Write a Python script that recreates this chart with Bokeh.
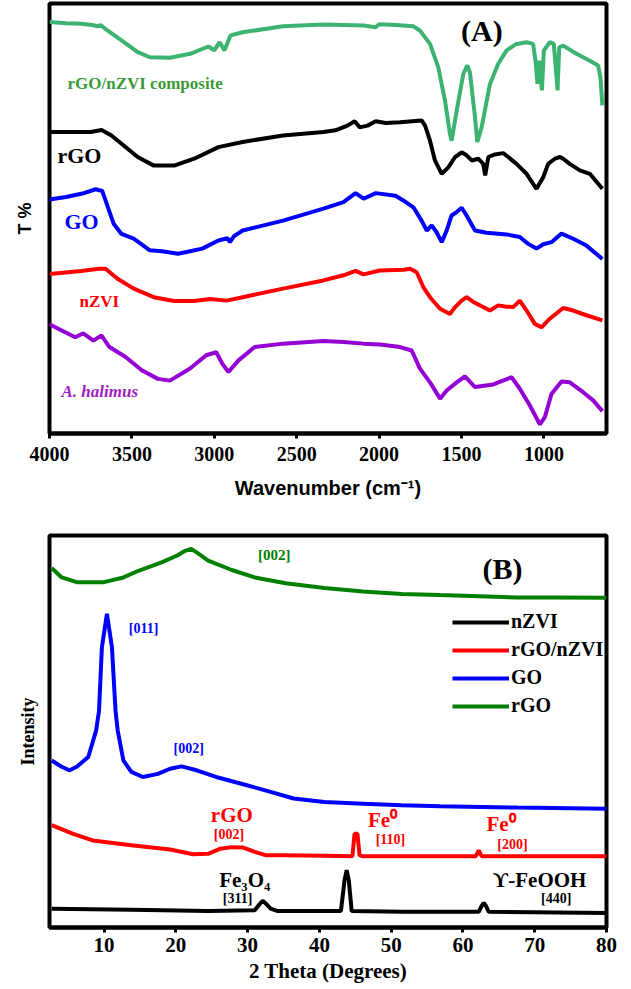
from bokeh.plotting import figure
from bokeh.models import Range1d, FixedTicker, Label, Legend, LegendItem
from bokeh.layouts import column
from bokeh.embed import file_html
from bokeh.resources import INLINE

# ---------------- Panel A : FTIR ----------------
a_ticks = [4000, 3500, 3000, 2500, 2000, 1500, 1000]

wn_comp = [4000, 3900, 3807, 3740, 3709, 3690, 3655, 3563, 3465, 3391, 3269, 3146, 3036, 3000, 2968, 2938,
           2901, 2828, 2583, 2338, 2094, 2020, 2000, 1900, 1792, 1752, 1691, 1641, 1600, 1570, 1560, 1529,
           1489, 1465, 1449, 1418, 1404, 1378, 1327, 1277, 1226, 1166, 1105, 1065, 1049, 1039, 1028, 1012,
           1000, 964, 940, 928, 917, 907, 883, 802, 721, 671, 657, 645]
t_comp = [95.7, 95.4, 95.3, 95.0, 94.7, 95.0, 93.9, 91.4, 88.7, 87.5, 87.4, 88.3, 90.0, 89.1, 91.0, 89.1,
          92.6, 93.3, 94.7, 95.1, 94.9, 94.5, 95.2, 95.0, 94.7, 93.7, 90.6, 85.2, 77.4, 69.7, 68.1, 75.1,
          83.6, 85.6, 84.0, 73.6, 67.8, 71.2, 81.3, 86.0, 89.1, 90.6, 91.0, 90.6, 86.0, 81.3, 86.7, 79.8,
          89.1, 91.0, 90.6, 85.2, 79.8, 89.8, 90.2, 88.3, 86.7, 85.6, 82.9, 76.3]

wn_rgo = [4000, 3750, 3684, 3624, 3563, 3465, 3367, 3244, 3122, 2975, 2828, 2583, 2338, 2265, 2192, 2148,
          2118, 2070, 2020, 1960, 1873, 1742, 1721, 1691, 1661, 1620, 1580, 1539, 1499, 1469, 1438, 1398,
          1368, 1356, 1337, 1297, 1247, 1216, 1166, 1105, 1045, 1004, 974, 933, 903, 883, 843, 782, 721, 645]
t_rgo = [70.1, 70.1, 70.6, 69.3, 67.4, 64.3, 62.3, 62.3, 63.9, 66.6, 67.8, 69.3, 70.1, 70.5, 71.6, 72.6,
         71.2, 71.6, 72.6, 72.2, 72.4, 72.8, 71.6, 68.1, 63.5, 60.4, 61.9, 64.3, 65.4, 64.7, 63.5, 63.9,
         62.7, 60.0, 64.3, 64.9, 65.2, 64.3, 62.7, 60.4, 56.9, 59.6, 62.7, 63.9, 64.3, 63.9, 62.7, 61.2, 60.4, 56.9]

wn_go = [4000, 3900, 3800, 3720, 3680, 3660, 3611, 3563, 3489, 3391, 3318, 3220, 3147, 3073, 2975, 2920,
         2905, 2880, 2828, 2583, 2338, 2216, 2143, 2094, 2020, 1900, 1853, 1792, 1742, 1711, 1681, 1651,
         1620, 1590, 1560, 1529, 1499, 1469, 1418, 1348, 1226, 1146, 1095, 1045, 1004, 954, 893, 822, 742, 645]
t_go = [54.4, 55.0, 55.8, 56.8, 56.4, 54.2, 48.8, 46.4, 45.3, 42.6, 42.4, 41.8, 42.4, 43.0, 44.9, 45.4,
        44.5, 45.9, 47.2, 49.5, 52.3, 53.8, 55.9, 54.6, 55.9, 55.3, 54.2, 52.6, 49.5, 47.2, 48.4, 46.8,
        44.5, 47.2, 50.7, 51.5, 52.5, 50.7, 47.2, 46.7, 46.3, 45.7, 44.1, 43.0, 44.0, 44.5, 46.5, 45.3, 43.7, 40.6]

wn_nzvi = [4000, 3807, 3700, 3660, 3587, 3489, 3367, 3244, 3122, 3024, 2926, 2828, 2583, 2338, 2216, 2143,
           2094, 1996, 1849, 1812, 1772, 1731, 1691, 1630, 1570, 1539, 1499, 1469, 1428, 1327, 1277, 1226,
           1186, 1146, 1105, 1055, 1014, 964, 883, 822, 742, 645]
t_nzvi = [37.1, 37.8, 38.3, 38.3, 36.0, 33.7, 31.7, 30.8, 30.8, 31.3, 30.9, 31.7, 33.7, 35.6, 36.8, 37.8,
          37.0, 37.9, 38.1, 38.3, 37.5, 34.0, 31.7, 29.0, 27.8, 29.4, 30.9, 31.7, 30.6, 28.6, 29.8, 29.5,
          29.4, 30.9, 28.6, 25.5, 24.7, 26.7, 29.2, 28.6, 27.5, 26.3]

wn_hal = [4000, 3929, 3844, 3795, 3734, 3685, 3636, 3538, 3440, 3342, 3269, 3147, 3049, 2988, 2951, 2914,
          2853, 2755, 2583, 2338, 2216, 2094, 1994, 1873, 1802, 1752, 1691, 1630, 1590, 1529, 1479, 1418,
          1307, 1196, 1146, 1085, 1024, 994, 954, 893, 843, 762, 701, 645]
t_hal = [25.4, 24.0, 22.4, 23.3, 21.6, 22.8, 20.1, 17.8, 14.7, 12.7, 12.3, 15.1, 18.2, 18.9, 16.2, 14.3,
         17.0, 20.1, 20.9, 21.5, 21.3, 20.9, 20.7, 20.1, 19.3, 15.1, 11.9, 8.1, 10.0, 11.9, 13.3, 10.8,
         11.4, 13.1, 10.4, 6.5, 2.1, 3.8, 9.2, 12.1, 11.9, 9.6, 7.7, 5.2]

# ---------------- Panel B : XRD ----------------
b_ticks = [10, 20, 30, 40, 50, 60, 70, 80]

th_rgo = [2.7, 4.1, 6.2, 10.0, 12.7, 14.8, 18.1, 20.2, 21.3, 22.1, 22.9, 24.5, 27.8, 31.0, 35.3, 40.7,
          46.1, 51.5, 56.8, 62.2, 67.6, 73.0, 80.0]
i_rgo = [91.7, 89.3, 88.1, 88.1, 89.3, 91.0, 93.2, 94.9, 96.1, 96.6, 95.7, 93.6, 91.2, 89.3, 87.8, 86.6,
         85.7, 85.1, 84.8, 84.5, 84.2, 84.2, 84.1]

th_go = [2.7, 4.1, 5.2, 6.2, 7.8, 8.9, 9.3, 9.7, 10.4, 11.1, 11.6, 11.9, 12.7, 13.8, 15.4, 17.5, 19.2,
         20.8, 22.9, 25.6, 29.9, 33.2, 36.4, 40.7, 46.1, 51.5, 56.8, 67.6, 80.0]
i_go = [42.6, 41.0, 40.1, 41.0, 43.5, 50.3, 55.3, 71.5, 80.0, 71.5, 55.3, 50.3, 42.6, 39.7, 38.4, 39.2, 40.5,
        41.1, 40.1, 38.4, 36.3, 34.6, 32.9, 32.0, 31.6, 31.2, 30.9, 30.6, 30.3]

th_comp = [2.7, 5.7, 8.4, 13.8, 19.2, 22.4, 24.5, 26.2, 27.8, 29.4, 31.0, 32.6, 35.3, 40.7, 44.6, 44.9,
           45.3, 45.6, 46.0, 51.5, 61.8, 62.2, 62.6, 80.0]
i_comp = [26.1, 23.9, 22.2, 21.0, 19.9, 18.7, 18.8, 20.1, 20.5, 20.4, 19.3, 18.4, 18.4, 18.3, 18.2, 23.9,
          23.9, 18.4, 18.2, 18.2, 18.2, 19.7, 18.2, 18.2]

th_nzvi = [2.7, 13.8, 24.5, 31.0, 31.6, 32.1, 32.6, 33.2, 34.2, 43.0, 43.5, 43.8, 44.1, 44.5, 51.5, 62.2,
           62.6, 62.9, 63.2, 63.6, 80.0]
i_nzvi = [4.8, 4.5, 4.2, 4.4, 5.8, 6.8, 6.0, 4.8, 4.2, 4.2, 12.0, 14.6, 12.0, 4.2, 4.0, 4.0, 5.5, 6.3,
          5.5, 4.0, 3.7]

legend_names = ["nZVI", "rGO/nZVI", "GO", "rGO"]

SERIF = "Liberation Serif"
SANS = "Liberation Sans"


def lab(p, x, y, text, color, size, align="left", style="bold", font=SERIF):
    p.add_layout(Label(x=x, y=y, text=text, text_color=color, text_font=font,
                       text_font_style=style, text_font_size=f"{size}px",
                       text_align=align, text_baseline="middle"))


def style_frame(p):
    p.outline_line_color = "black"
    p.outline_line_width = 4
    p.outline_line_alpha = 1
    p.xgrid.visible = False
    p.ygrid.visible = False
    p.background_fill_color = "white"
    p.border_fill_color = "white"


# ---------- figure A ----------
pa = figure(width=630, height=515, x_range=Range1d(4000, 620), y_range=Range1d(0, 100),
            output_backend="svg", toolbar_location=None,
            min_border_left=49, min_border_right=24, min_border_top=3, min_border_bottom=82)
style_frame(pa)
lw = 4
pa.line(wn_comp, t_comp, line_color="#3cb371", line_width=lw)
pa.line(wn_rgo, t_rgo, line_color="black", line_width=lw)
pa.line(wn_go, t_go, line_color="#0000ff", line_width=lw)
pa.line(wn_nzvi, t_nzvi, line_color="#ff0000", line_width=lw)
pa.line(wn_hal, t_hal, line_color="#9400d3", line_width=lw)

xa = pa.xaxis[0]
xa.ticker = FixedTicker(ticks=a_ticks)
xa.minor_tick_line_color = None
xa.major_tick_out = 5
xa.major_tick_in = 0
xa.major_tick_line_width = 3
xa.major_tick_line_color = "black"
xa.axis_line_width = 4
xa.axis_line_color = "black"
xa.major_label_standoff = 8
xa.major_label_text_font = SERIF
xa.major_label_text_font_style = "bold"
xa.major_label_text_font_size = "20px"
xa.major_label_text_color = "black"
xa.axis_label = "Wavenumber (cm\u207b\u00b9)"
xa.axis_label_text_font = SANS
xa.axis_label_text_font_style = "bold"
xa.axis_label_text_font_size = "20px"
xa.axis_label_text_color = "black"
xa.axis_label_standoff = 13

ya = pa.yaxis[0]
ya.ticker = FixedTicker(ticks=[])
ya.major_tick_line_color = None
ya.minor_tick_line_color = None
ya.axis_line_color = None
ya.major_label_standoff = 0
ya.axis_label = "T %"
ya.axis_label_text_font = SANS
ya.axis_label_text_font_style = "bold"
ya.axis_label_text_font_size = "18px"
ya.axis_label_text_color = "black"
ya.axis_label_standoff = 15

lab(pa, 3891, 81.4, "rGO/nZVI composite", "#3a9a3a", 17)
lab(pa, 3952, 64.7, "rGO", "black", 22)
lab(pa, 3909, 49.3, "GO", "#0000ff", 22)
lab(pa, 3818, 30.7, "nZVI", "#ff0000", 17)
lab(pa, 3927, 9.8, "A. halimus", "#a020c0", 17, style="bold italic")
lab(pa, 1376, 93.7, "(A)", "black", 30, align="center")

# ---------- figure B ----------
pb = figure(width=630, height=473, x_range=Range1d(2.4, 80), y_range=Range1d(0, 100),
            output_backend="svg", toolbar_location=None,
            min_border_left=35, min_border_right=13, min_border_top=20, min_border_bottom=61)
style_frame(pb)
r_rgo = pb.line(th_rgo, i_rgo, line_color="#008000", line_width=lw)
r_go = pb.line(th_go, i_go, line_color="#0000ff", line_width=lw)
r_comp = pb.line(th_comp, i_comp, line_color="#ff0000", line_width=lw)
r_nzvi = pb.line(th_nzvi, i_nzvi, line_color="black", line_width=lw)

xb = pb.xaxis[0]
xb.ticker = FixedTicker(ticks=b_ticks)
xb.minor_tick_line_color = None
xb.major_tick_out = 5
xb.major_tick_in = 0
xb.major_tick_line_width = 3
xb.major_tick_line_color = "black"
xb.axis_line_width = 4
xb.axis_line_color = "black"
xb.major_label_standoff = 5
xb.major_label_text_font = SERIF
xb.major_label_text_font_style = "bold"
xb.major_label_text_font_size = "21px"
xb.major_label_text_color = "black"
xb.axis_label = "2 Theta (Degrees)"
xb.axis_label_text_font = SERIF
xb.axis_label_text_font_style = "bold"
xb.axis_label_text_font_size = "21px"
xb.axis_label_text_color = "black"
xb.axis_label_standoff = 4

yb = pb.yaxis[0]
yb.ticker = FixedTicker(ticks=[])
yb.major_tick_line_color = None
yb.minor_tick_line_color = None
yb.axis_line_color = None
yb.major_label_standoff = 0
yb.axis_label = "Intensity"
yb.axis_label_text_font = SERIF
yb.axis_label_text_font_style = "bold"
yb.axis_label_text_font_size = "18px"
yb.axis_label_text_color = "black"
yb.axis_label_standoff = 12

lab(pb, 33.7, 94.9, "[002]", "#008000", 15, align="center")
lab(pb, 65.5, 91.5, "(B)", "black", 30, align="center")
lab(pb, 15.5, 76.2, "[011]", "#0000ff", 14, align="center")
lab(pb, 21.8, 45.6, "[002]", "#0000ff", 14, align="center")
lab(pb, 27.8, 28.8, "rGO", "#ff0000", 21, align="center")
lab(pb, 27.4, 23.7, "[002]", "#ff0000", 14, align="center")
lab(pb, 48.8, 27.5, "Fe\u2070", "#ff0000", 21, align="center")
lab(pb, 49.9, 22.5, "[110]", "#ff0000", 14, align="center")
lab(pb, 65.3, 26.3, "Fe\u2070", "#ff0000", 21, align="center")
lab(pb, 66.9, 21.2, "[200]", "#ff0000", 14, align="center")
lab(pb, 29.6, 12.2, "Fe\u2083O\u2084", "black", 21, align="center")
lab(pb, 28.6, 7.4, "[311]", "black", 14, align="center")
lab(pb, 70.7, 12.0, "\u03d2-FeOOH", "black", 21, align="center")
lab(pb, 73.0, 7.4, "[440]", "black", 14, align="center")

legend = Legend(items=[LegendItem(label=legend_names[0], renderers=[r_nzvi]),
                       LegendItem(label=legend_names[1], renderers=[r_comp]),
                       LegendItem(label=legend_names[2], renderers=[r_go]),
                       LegendItem(label=legend_names[3], renderers=[r_rgo])],
                location=(403, 210))
legend.label_text_font = SERIF
legend.label_text_font_style = "bold"
legend.label_text_font_size = "20px"
legend.label_text_color = "black"
legend.glyph_width = 57
legend.glyph_height = 20
legend.label_height = 20
legend.spacing = 5
legend.padding = 0
legend.margin = 0
legend.label_standoff = 2
legend.border_line_color = None
legend.background_fill_alpha = 0
pb.add_layout(legend)

layout = column(pa, pb)
open("out.html", "w").write(file_html(layout, INLINE))
